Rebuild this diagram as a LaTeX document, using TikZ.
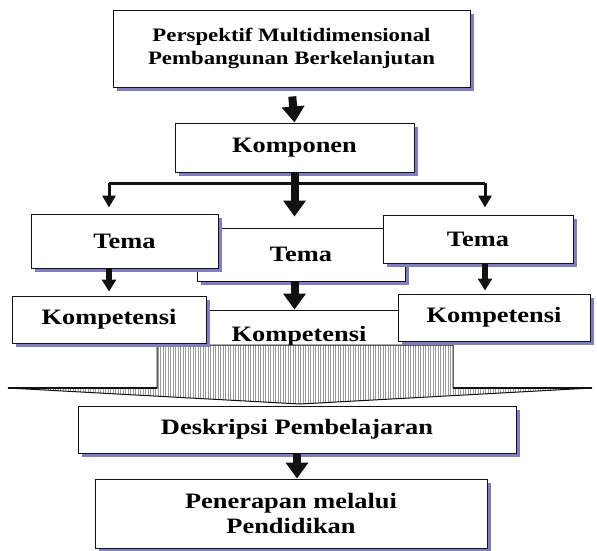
\documentclass[tikz,border=0pt]{standalone}
\usepackage{fontspec}
\setmainfont{Liberation Serif}[FakeStretch=1.2]
\usetikzlibrary{arrows.meta,calc,shadows}
\definecolor{ink}{HTML}{111111}
\definecolor{shadowc}{HTML}{7F7FBF}
\definecolor{hatch}{HTML}{9A9A9A}

\begin{document}
\begin{tikzpicture}[x=1pt,y=-1pt,
  box/.style={draw=ink,line width=1pt,fill=white,inner sep=0pt,align=center,
    drop shadow={shadow xshift=4pt,shadow yshift=-4pt,fill=shadowc,opacity=1},
    font=\fontsize{22}{25}\selectfont\bfseries},
  fatarrow/.style={draw=ink,line width=8pt,-{Triangle[width=22pt,length=16pt]}},
  slimarrow/.style={draw=ink,line width=6pt,-{Triangle[width=14pt,length=12pt]}},
  smallarrow/.style={draw=ink,line width=3pt,-{Triangle[width=13pt,length=12pt]}}]
\path[use as bounding box,fill=white] (0,0) rectangle (597,550);
% middle boxes first, the side ones overlap them
\node[box,minimum width=208pt,minimum height=53pt] (temaM) at (301,254.5) {Tema};
\node[box,minimum width=208pt,minimum height=52pt] (kompM) at (299,336) {Kompetensi};
% hatched funnel
\begin{scope}
\clip (157,345) -- (157,388) -- (8,388) -- (300,404) -- (592,388) -- (453,388) -- (453,345) -- cycle;
\fill[white] (0,340) rectangle (597,410);
\foreach \x in {8,10.5,...,592} \draw[hatch,line width=0.9pt] (\x,340) -- (\x,410);
\end{scope}
\draw[ink,line width=1pt] (157,345) -- (157,388) -- (8,388) -- (300,404) -- (592,388) -- (453,388) -- (453,345) -- cycle;
\draw[ink,line width=2.5pt] (8,388) -- (157,388) (453,388) -- (592,388);
% boxes
\node[box,font=\fontsize{19}{23}\selectfont\bfseries,minimum width=357pt,minimum height=77pt] (persp) at (291.5,48.5) {Perspektif Multidimensional\\Pembangunan Berkelanjutan};
\node[box,minimum width=239pt,minimum height=49pt] (komp) at (294.5,147.5) {Komponen};
\node[box,minimum width=187pt,minimum height=54pt] (temaL) at (124.5,241) {Tema};
\node[box,minimum width=190pt,minimum height=48pt] (temaR) at (478,239) {Tema};
\node[box,minimum width=194pt,minimum height=47pt] (kompL) at (109,319.5) {Kompetensi};
\node[box,minimum width=192pt,minimum height=47pt] (kompR) at (494,317.5) {Kompetensi};
\node[box,minimum width=438pt,minimum height=47pt] (desk) at (297,429.5) {Deskripsi Pembelajaran};
\node[box,minimum width=392pt,minimum height=69pt] (pener) at (291,513.5) {Penerapan melalui\\Pendidikan};
% arrows
\coordinate (barL) at (109,183);
\coordinate (barR) at (485,183);
\draw[ink,line width=3pt] (barL) -- (barR);
\draw[fatarrow,shorten <=9pt] (persp.south) -- (komp.north);
\draw[fatarrow,shorten >=11pt] (komp.south) -- (komp.south |- temaM.north);
\draw[smallarrow,shorten >=6pt] (barL) -- (barL |- temaL.north);
\draw[smallarrow,shorten >=7pt] (barR) -- (barR |- temaR.north);
\draw[slimarrow,shorten >=4pt] (barL |- temaL.south) -- (barL |- kompL.north);
\draw[fatarrow] (komp.south |- temaM.south) -- (komp.south |- kompM.north);
\draw[slimarrow,shorten >=3pt] (barR |- temaR.south) -- (barR |- kompR.north);
\draw[fatarrow] (desk.south) -- (desk.south |- pener.north);
\end{tikzpicture}
\end{document}
